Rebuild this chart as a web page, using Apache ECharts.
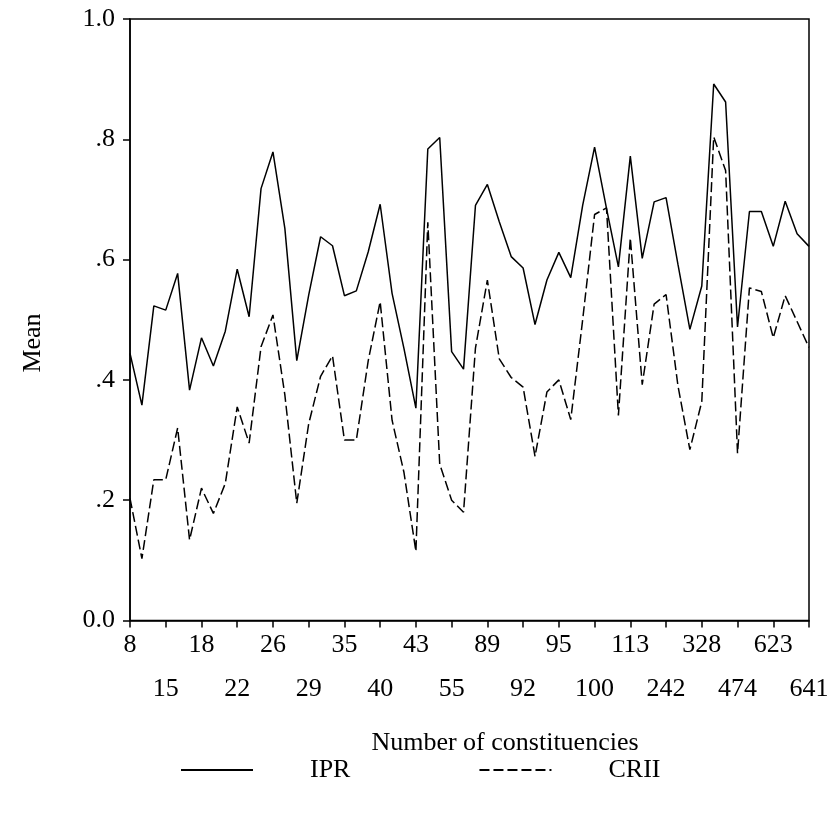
<!DOCTYPE html>
<html>
<head>
<meta charset="utf-8">
<script src="https://cdn.jsdelivr.net/npm/echarts@6/dist/echarts.min.js"></script>
<style>
html,body{margin:0;padding:0;background:#fff;}
#chart{width:837px;height:821px;}
</style>
</head>
<body>
<div id="chart"></div>
<script>
const categories = ['8','','','15','','','18','','','22','','','26','','','29','','','35','','','40','','','43','','','55','','','89','','','92','','','95','','','100','','','113','','','242','','','328','','','474','','','623','','','641'];
const ipr = [0.444,0.358,0.523,0.516,0.577,0.383,0.470,0.423,0.481,0.584,0.505,0.718,0.779,0.652,0.432,0.541,0.638,0.623,0.540,0.548,0.613,0.692,0.544,0.452,0.353,0.784,0.803,0.447,0.418,0.690,0.725,0.663,0.605,0.586,0.492,0.566,0.612,0.570,0.690,0.787,0.685,0.588,0.772,0.602,0.696,0.703,0.592,0.484,0.556,0.892,0.862,0.488,0.680,0.680,0.622,0.697,0.643,0.622];
const crii = [0.203,0.103,0.234,0.234,0.320,0.134,0.220,0.178,0.228,0.355,0.295,0.455,0.508,0.375,0.195,0.327,0.406,0.440,0.300,0.300,0.432,0.530,0.333,0.246,0.115,0.662,0.260,0.200,0.180,0.453,0.566,0.435,0.404,0.388,0.273,0.380,0.400,0.334,0.500,0.675,0.686,0.341,0.636,0.392,0.526,0.542,0.390,0.284,0.364,0.804,0.748,0.278,0.553,0.547,0.470,0.540,0.497,0.454];
const yTickLabels = ['0.0','.2','.4','.6','.8','1.0'];
const seriesNames = ['IPR','CRII'];
const xTitle = 'Number of constituencies';
const yTitle = 'Mean';

const FONT = 'Liberation Serif';
const FS = 26;
const chart = echarts.init(document.getElementById('chart'), null, {renderer:'canvas'});
chart.setOption({
  animation:false,
  backgroundColor:'#fff',
  grid:{left:130,right:28,top:19,bottom:200.5,show:true,borderColor:'#000',borderWidth:1.5,backgroundColor:'transparent'},
  legend:{
    show:true,
    left:175, top:752, itemWidth:72, itemHeight:14, itemGap:128,
    itemStyle:{opacity:0},
    data:seriesNames,
    textStyle:{fontFamily:FONT,fontSize:FS,color:'#000',padding:[0,0,0,52]}
  },
  xAxis:[{
    type:'category', data:categories, boundaryGap:false, position:'bottom',
    axisLine:{lineStyle:{color:'#000',width:1.5}},
    axisTick:{length:7,lineStyle:{color:'#000',width:1.5},interval:(i)=>i%3===0},
    axisLabel:{interval:(i)=>i%6===0,margin:12,fontFamily:FONT,fontSize:FS,color:'#000'},
    splitLine:{show:false}
  },{
    type:'category', data:categories, boundaryGap:false, position:'bottom',
    axisLine:{show:false}, axisTick:{show:false},
    axisLabel:{interval:(i)=>i%6===3,margin:56,fontFamily:FONT,fontSize:FS,color:'#000'},
    splitLine:{show:false}
  }],
  yAxis:{
    type:'value', min:0, max:1, interval:0.2,
    axisLine:{show:true,lineStyle:{color:'#000',width:1.5}},
    axisTick:{show:true,length:7,lineStyle:{color:'#000',width:1.5}},
    axisLabel:{margin:15,fontFamily:FONT,fontSize:FS,color:'#000',formatter:(v)=>yTickLabels[Math.round(v*5)]},
    splitLine:{show:false}
  },
  graphic:[
    {type:'text',x:505,y:743,style:{text:xTitle,fontFamily:FONT,fontSize:FS,fill:'#000',textAlign:'center',textVerticalAlign:'middle'}},
    {type:'text',x:33,y:343,rotation:Math.PI/2,style:{text:yTitle,fontFamily:FONT,fontSize:FS,fill:'#000',textAlign:'center',textVerticalAlign:'middle'}}
  ],
  series:[
    {name:seriesNames[0],type:'line',data:ipr,symbol:'none',lineStyle:{color:'#000',width:1.5,type:'solid'},itemStyle:{color:'#000'}},
    {name:seriesNames[1],type:'line',data:crii,symbol:'none',lineStyle:{color:'#000',width:1.5,type:[10,4]},itemStyle:{color:'#000'}}
  ]
});
</script>
</body>
</html>
